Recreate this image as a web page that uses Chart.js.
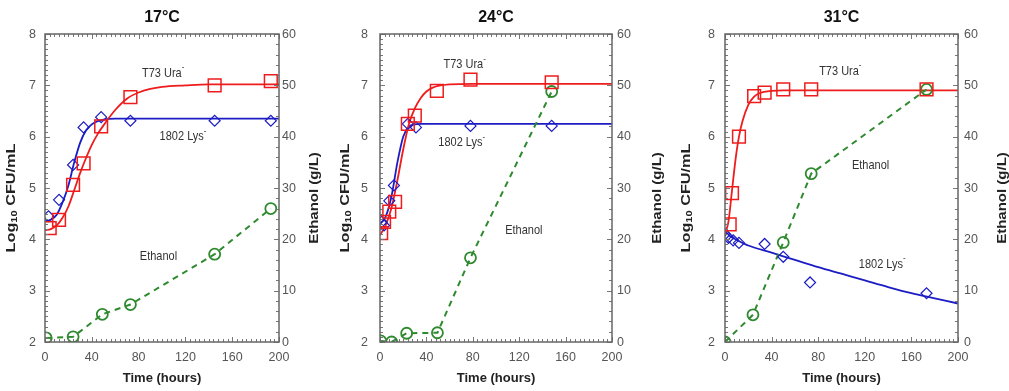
<!DOCTYPE html>
<html>
<head>
<meta charset="utf-8">
<script src="https://cdn.jsdelivr.net/npm/chart.js@4.4.1/dist/chart.umd.min.js"></script>
<style>
  body { margin: 0; background: #fff; }
  #wrap { position: relative; width: 1009px; height: 391px; overflow: hidden; }
  canvas { position: absolute; top: 0; }
</style>
</head>
<body>
<div id="wrap">
  <canvas id="c17" style="left:0px;width:330px;height:391px"></canvas>
  <canvas id="c24" style="left:330px;width:340px;height:391px"></canvas>
  <canvas id="c31" style="left:670px;width:339px;height:391px"></canvas>
</div>
<script>
// tick labels
const xTicks = [0, 40, 80, 120, 160, 200];
const yTicks = [2, 3, 4, 5, 6, 7, 8];
const y2Ticks = [0, 10, 20, 30, 40, 50, 60];

// ---- 17°C ----
const t17Ura = [4, 12, 24, 33, 48, 73, 145, 193];
const ura17 = [4.22, 4.38, 5.06, 5.48, 6.20, 6.77, 7.00, 7.08];
const t17Lys = [3, 12, 24, 33, 48, 73, 145, 193];
const lys17 = [4.45, 4.77, 5.45, 6.18, 6.38, 6.31, 6.31, 6.31];
const t17Eth = [1, 24, 49, 73, 145, 193];
const eth17 = [0.8, 1.0, 5.4, 7.3, 17.1, 26.0];
const fitT17 = [0, 5, 10, 15, 20, 25, 30, 35, 40, 45, 50, 60, 70, 80, 90, 100, 120, 140, 200];
const uraFit17 = [4.18, 4.2, 4.27, 4.42, 4.64, 4.96, 5.29, 5.58, 5.84, 6.05, 6.22, 6.52, 6.74, 6.86, 6.93, 6.97, 7.0, 7.02, 7.02];
const lysFit17 = [4.35, 4.38, 4.48, 4.72, 5.05, 5.5, 5.88, 6.12, 6.24, 6.3, 6.33, 6.35, 6.35, 6.35, 6.35, 6.35, 6.35, 6.35, 6.35];

// ---- 24°C ----
const t24Ura = [1, 3.5, 8, 13, 24, 30, 49, 78, 148];
const ura24 = [4.12, 4.34, 4.54, 4.73, 6.25, 6.41, 6.89, 7.11, 7.06];
const t24Lys = [1.4, 3.5, 8, 12, 24, 31, 78, 148];
const lys24 = [4.34, 4.27, 4.75, 5.05, 6.25, 6.18, 6.21, 6.21];
const t24Eth = [0.6, 10, 23, 49.5, 78, 148];
const eth24 = [0.2, 0, 1.7, 1.8, 16.4, 48.8];
const fitT24 = [0, 5, 10, 15, 20, 25, 30, 35, 40, 45, 50, 60, 80, 200];
const uraFit24 = [4.08, 4.28, 4.62, 5.15, 5.75, 6.25, 6.55, 6.75, 6.88, 6.95, 6.99, 7.02, 7.03, 7.03];
const lysFit24 = [4.3, 4.45, 4.85, 5.5, 6.0, 6.2, 6.24, 6.25, 6.25, 6.25, 6.25, 6.25, 6.25, 6.25];

// ---- 31°C ----
const t31Ura = [4, 6, 12, 25, 34, 50, 74, 173];
const ura31 = [4.29, 4.9, 6.0, 6.79, 6.86, 6.92, 6.92, 6.92];
const t31Lys = [0, 3, 7, 12, 34, 50, 73, 173];
const lys31 = [4.1, 4.03, 3.98, 3.93, 3.91, 3.66, 3.16, 2.95];
const t31Eth = [0, 24, 50, 74, 173];
const eth31 = [0, 5.3, 19.4, 32.8, 49.2];
const uraFitT31 = [0, 3, 6, 9, 12, 15, 20, 25, 30, 40, 50, 200];
const uraFit31 = [4.1, 4.35, 4.95, 5.55, 6.0, 6.3, 6.62, 6.78, 6.85, 6.89, 6.9, 6.9];
const lysFitT31 = [0, 5, 10, 20, 40, 60, 80, 100, 120, 140, 160, 180, 200];
const lysFit31 = [4.15, 4.05, 3.99, 3.88, 3.74, 3.6, 3.46, 3.33, 3.2, 3.07, 2.95, 2.85, 2.75];

const RED = '#ee1c1c';
const BLUE = '#1c1cc4';
const GREEN = '#2f8a2f';

function pts(t, v) {
    return t.map((x, i) => ({ x: x, y: v[i] }));
}

// 글자 그리기 (세로 늘림, 첨자 포함)
function drawParts(ctx, x, y, rot, parts, color, align, stretch) {
    ctx.save();
    ctx.translate(x, y);
    ctx.scale(1, stretch);
    ctx.rotate(rot);
    ctx.fillStyle = color;
    ctx.textBaseline = 'middle';
    ctx.textAlign = 'left';
    let total = 0;
    parts.forEach(p => { ctx.font = p.font; p.w = ctx.measureText(p.text).width; total += p.w; });
    let cx = align === 'right' ? -total : (align === 'left' ? 0 : -total / 2);
    parts.forEach(p => {
        ctx.font = p.font;
        ctx.fillText(p.text, cx, p.dy || 0);
        cx += p.w;
    });
    ctx.restore();
}

const FONT = '"Liberation Sans", Arial, sans-serif';

const decor = {
    id: 'decor',
    afterDraw(chart, args, o) {
        const ctx = chart.ctx;
        const a = chart.chartArea;
        const sx = chart.scales.x, sy = chart.scales.y, sy2 = chart.scales.y2;
        ctx.save();

        // 안쪽 눈금
        ctx.strokeStyle = '#777';
        ctx.lineWidth = 1;
        ctx.beginPath();
        for (let i = 0; i <= 50; i++) {
            const px = Math.round(sx.getPixelForValue(i * 4)) + 0.5;
            const len = i % 10 === 0 ? 5 : 3;
            ctx.moveTo(px, a.bottom); ctx.lineTo(px, a.bottom - len);
            ctx.moveTo(px, a.top); ctx.lineTo(px, a.top + len);
        }
        for (let i = 0; i <= 60; i++) {
            const py = Math.round(sy.getPixelForValue(2 + i / 10)) + 0.5;
            const len = i % 10 === 0 ? 5 : 3;
            ctx.moveTo(a.left, py); ctx.lineTo(a.left + len, py);
        }
        for (let i = 0; i <= 30; i++) {
            const py = Math.round(sy2.getPixelForValue(i * 2)) + 0.5;
            const len = i % 5 === 0 ? 5 : 3;
            ctx.moveTo(a.right, py); ctx.lineTo(a.right - len, py);
        }
        ctx.stroke();

        // 테두리
        ctx.strokeStyle = '#666';
        ctx.lineWidth = 1.5;
        ctx.strokeRect(a.left, a.top, a.right - a.left, a.bottom - a.top);

        // 눈금 라벨
        const tf = '12.5px ' + FONT;
        xTicks.forEach(v => drawParts(ctx, sx.getPixelForValue(v), 357, 0, [{ text: String(v), font: tf }], '#555', 'center', 1.05));
        yTicks.forEach(v => drawParts(ctx, a.left - o.gapL, sy.getPixelForValue(v), 0, [{ text: String(v), font: tf }], '#555', 'right', 1.05));
        y2Ticks.forEach(v => drawParts(ctx, a.right + o.gapR, sy2.getPixelForValue(v), 0, [{ text: String(v), font: tf }], '#555', 'left', 1.05));

        // 제목
        const cxMid = (a.left + a.right) / 2;
        drawParts(ctx, cxMid, 18, 0, [{ text: o.title, font: 'bold 16px ' + FONT }], '#111', 'center', 1);
        drawParts(ctx, cxMid, 378, 0, [{ text: 'Time (hours)', font: 'bold 13px ' + FONT }], '#222', 'center', 1);

        // 축 제목 (세로)
        const bf = 'bold 12.5px ' + FONT;
        drawParts(ctx, o.yTitleX, 198, -Math.PI / 2, [
            { text: 'Log', font: bf },
            { text: '10', font: 'bold 8.5px ' + FONT, dy: 3 },
            { text: ' CFU/mL', font: bf }
        ], '#222', 'center', 1.3);
        drawParts(ctx, o.y2TitleX, 198, -Math.PI / 2, [{ text: 'Ethanol (g/L)', font: bf }], '#222', 'center', 1.2);

        // 곡선 이름표
        const lf = '11px ' + FONT;
        o.labels.forEach(l => {
            const parts = [{ text: l.text, font: lf }];
            if (l.sup) parts.push({ text: '-', font: '8px ' + FONT, dy: -4.5 });
            drawParts(ctx, sx.getPixelForValue(l.x), sy.getPixelForValue(l.y), 0, parts, '#333', 'center', 1.2);
        });

        ctx.restore();
    }
};

function makePanel(id, cfg) {
    const canvas = document.getElementById(id);
    canvas.width = cfg.w;
    canvas.height = 391;
    return new Chart(canvas, {
        data: {
            datasets: [
                {
                    type: 'scatter', label: 'T73 Ura-', data: pts(cfg.uraT, cfg.ura), yAxisID: 'y',
                    pointStyle: 'rect', pointRadius: 9, pointBorderColor: RED, pointBackgroundColor: 'rgba(0,0,0,0)',
                    pointBorderWidth: 1.5, showLine: false
                },
                {
                    type: 'scatter', label: '1802 Lys-', data: pts(cfg.lysT, cfg.lys), yAxisID: 'y',
                    pointStyle: 'rectRot', pointRadius: 5.5, pointBorderColor: BLUE, pointBackgroundColor: 'rgba(0,0,0,0)',
                    pointBorderWidth: 1.2, showLine: false
                },
                {
                    type: 'line', label: 'Ethanol', data: pts(cfg.ethT, cfg.eth), yAxisID: 'y2',
                    borderColor: GREEN, borderWidth: 2, borderDash: [6, 5], tension: 0,
                    pointStyle: 'circle', pointRadius: 5.5, pointBorderColor: GREEN, pointBackgroundColor: 'rgba(0,0,0,0)',
                    pointBorderWidth: 1.8
                },
                {
                    type: 'line', label: 'Ura fit', data: pts(cfg.uraFitT, cfg.uraFit), yAxisID: 'y',
                    borderColor: RED, borderWidth: 1.8, pointRadius: 0, cubicInterpolationMode: 'monotone'
                },
                {
                    type: 'line', label: 'Lys fit', data: pts(cfg.lysFitT, cfg.lysFit), yAxisID: 'y',
                    borderColor: BLUE, borderWidth: 1.8, pointRadius: 0, cubicInterpolationMode: 'monotone'
                }
            ]
        },
        options: {
            responsive: false,
            devicePixelRatio: 1,
            animation: false,
            layout: { padding: { top: 34, left: 0, right: 0, bottom: 0 } },
            plugins: {
                legend: { display: false },
                tooltip: { enabled: false },
                decor: cfg.decor
            },
            scales: {
                x: {
                    type: 'linear', min: 0, max: 200,
                    ticks: { display: false, stepSize: 40 },
                    grid: { display: false, drawTicks: false }, border: { display: false },
                    afterFit: s => { s.height = 49; }
                },
                y: {
                    type: 'linear', position: 'left', min: 2, max: 8,
                    ticks: { display: false, stepSize: 1 },
                    grid: { display: false, drawTicks: false }, border: { display: false },
                    afterFit: s => { s.width = cfg.leftW; }
                },
                y2: {
                    type: 'linear', position: 'right', min: 0, max: 60,
                    ticks: { display: false, stepSize: 10 },
                    grid: { display: false, drawTicks: false }, border: { display: false },
                    afterFit: s => { s.width = cfg.rightW; }
                }
            }
        },
        plugins: [decor]
    });
}

makePanel('c17', {
    w: 330, leftW: 45, rightW: 51,
    uraT: t17Ura, ura: ura17, lysT: t17Lys, lys: lys17, ethT: t17Eth, eth: eth17,
    uraFitT: fitT17, uraFit: uraFit17, lysFitT: fitT17, lysFit: lysFit17,
    decor: {
        title: '17°C', gapL: 9, gapR: 3, yTitleX: 12, y2TitleX: 315,
        labels: [
            { x: 101, y: 7.24, text: 'T73 Ura', sup: true },
            { x: 118, y: 6.0, text: '1802 Lys', sup: true },
            { x: 97, y: 3.66, text: 'Ethanol' }
        ]
    }
});

makePanel('c24', {
    w: 340, leftW: 50, rightW: 58,
    uraT: t24Ura, ura: ura24, lysT: t24Lys, lys: lys24, ethT: t24Eth, eth: eth24,
    uraFitT: fitT24, uraFit: uraFit24, lysFitT: fitT24, lysFit: lysFit24,
    decor: {
        title: '24°C', gapL: 12, gapR: 5, yTitleX: 16, y2TitleX: 328,
        labels: [
            { x: 73, y: 7.4, text: 'T73 Ura', sup: true },
            { x: 70.5, y: 5.89, text: '1802 Lys', sup: true },
            { x: 124, y: 4.18, text: 'Ethanol' }
        ]
    }
});

makePanel('c31', {
    w: 339, leftW: 55, rightW: 51,
    uraT: t31Ura, ura: ura31, lysT: t31Lys, lys: lys31, ethT: t31Eth, eth: eth31,
    uraFitT: uraFitT31, uraFit: uraFit31, lysFitT: lysFitT31, lysFit: lysFit31,
    decor: {
        title: '31°C', gapL: 10, gapR: 6, yTitleX: 17, y2TitleX: 333,
        labels: [
            { x: 99, y: 7.28, text: 'T73 Ura', sup: true },
            { x: 135, y: 3.52, text: '1802 Lys', sup: true },
            { x: 125, y: 5.45, text: 'Ethanol' }
        ]
    }
});
</script>
</body>
</html>
